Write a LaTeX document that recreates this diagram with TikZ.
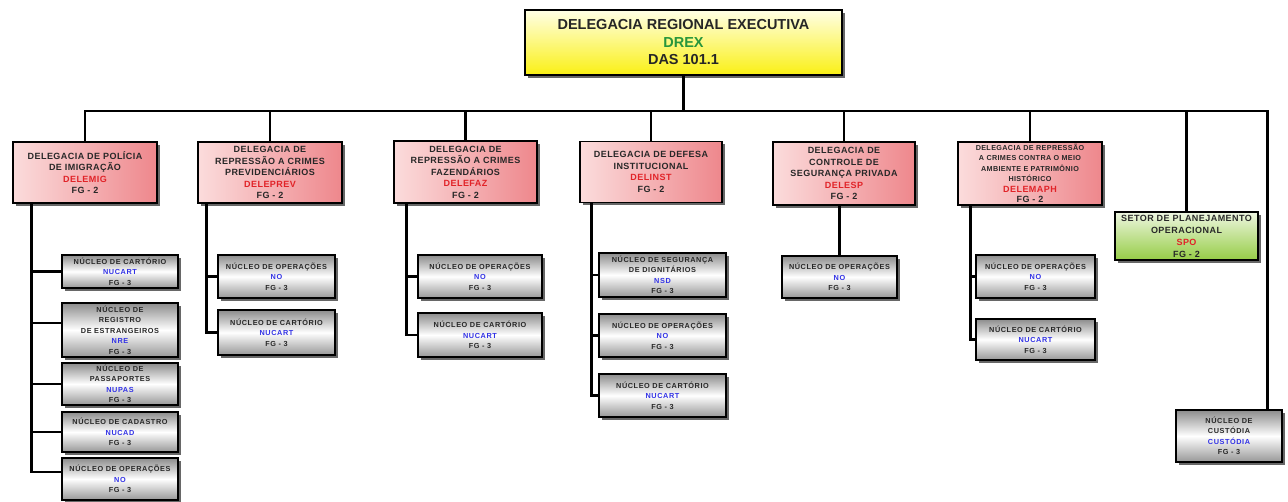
\documentclass[tikz,border=0pt]{standalone}
\usepackage{fontspec}
\setmainfont{Liberation Sans}
\newfontfamily\spcfont[LetterSpace=5]{Liberation Sans}
\newfontfamily\spcfontb[LetterSpace=8]{Liberation Sans}
\usetikzlibrary{shadows}
\definecolor{drexgreen}{RGB}{40,150,60}
\definecolor{codered}{RGB}{225,35,40}
\definecolor{codeblue}{RGB}{50,50,230}
\definecolor{txt}{RGB}{40,40,40}
\definecolor{pinkL}{RGB}{251,220,220}
\definecolor{pinkD}{RGB}{238,135,140}
\definecolor{yelL}{RGB}{255,255,230}
\definecolor{yelD}{RGB}{250,240,20}
\definecolor{grnL}{RGB}{238,246,225}
\definecolor{grnD}{RGB}{150,205,70}
\definecolor{gryD}{RGB}{140,140,140}
\tikzset{
  box/.style={draw=black, line width=1.3pt, inner sep=0pt, align=center,
    drop shadow={shadow xshift=3pt, shadow yshift=-3pt, fill=black!70, opacity=0.85}},
  topbox/.style={box, top color=yelL, bottom color=yelD,
    font=\fontsize{14.5}{17.5}\selectfont\bfseries, text=black!85},
  delbox/.style={box, left color=pinkL, right color=pinkD,
    font=\spcfont\fontsize{9}{11.5}\selectfont\bfseries, text=txt},
  smalldel/.style={delbox, font=\spcfont\fontsize{7.2}{10.5}\selectfont\bfseries},
  spobox/.style={box, top color=grnL, bottom color=grnD,
    font=\spcfont\fontsize{9}{12}\selectfont\bfseries, text=txt},
  nucbox/.style={box, top color=gryD, bottom color=gryD!90, middle color=white,
    font=\spcfontb\fontsize{7.3}{10.5}\selectfont\bfseries, text=txt},
  bus/.style={line width=2.7pt, line join=miter},
  conn/.style={line width=2.6pt, line join=miter},
}
\newcommand{\rc}[1]{{\color{codered}#1}}
\newcommand{\bc}[1]{{\color{codeblue}#1}}
\newcommand{\bgline}[1]{{\fontsize{9}{11.5}\selectfont #1}}
\begin{document}
\begin{tikzpicture}[x=1pt, y=-1pt]
\useasboundingbox (0,0) rectangle (1288,502);

% top
\node[topbox, minimum width=317pt, minimum height=65pt] (top) at (683.5,42.5)
  {DELEGACIA REGIONAL EXECUTIVA\\{\color{drexgreen}DREX}\\DAS 101.1};

% delegacias
\node[delbox, minimum width=144pt, minimum height=61pt] (dmig) at (85,172.5)
  {DELEGACIA DE POLÍCIA\\DE IMIGRAÇÃO\\\rc{DELEMIG}\\FG - 2};
\node[delbox, minimum width=144pt, minimum height=61pt] (dprev) at (270,172.5)
  {DELEGACIA DE\\REPRESSÃO A CRIMES\\PREVIDENCIÁRIOS\\\rc{DELEPREV}\\FG - 2};
\node[delbox, minimum width=143pt, minimum height=62pt] (dfaz) at (465.5,172)
  {DELEGACIA DE\\REPRESSÃO A CRIMES\\FAZENDÁRIOS\\\rc{DELEFAZ}\\FG - 2};
\node[delbox, minimum width=142pt, minimum height=61pt] (dinst) at (651,172)
  {DELEGACIA DE DEFESA\\INSTITUCIONAL\\\rc{DELINST}\\FG - 2};
\node[delbox, minimum width=142pt, minimum height=63pt] (desp) at (844,173.5)
  {DELEGACIA DE\\CONTROLE DE\\SEGURANÇA PRIVADA\\\rc{DELESP}\\FG - 2};
\node[smalldel, minimum width=144pt, minimum height=63pt] (dmaph) at (1030,173.5)
  {DELEGACIA DE REPRESSÃO\\A CRIMES CONTRA O MEIO\\AMBIENTE E PATRIMÔNIO\\HISTÓRICO\\\bgline{\rc{DELEMAPH}}\\\bgline{FG - 2}};
\node[spobox, minimum width=143pt, minimum height=48pt] (spo) at (1186.5,236)
  {SETOR DE PLANEJAMENTO\\OPERACIONAL\\\rc{SPO}\\FG - 2};
\node[nucbox, minimum width=106pt, minimum height=52pt] (cust) at (1229,436)
  {NÚCLEO DE\\CUSTÓDIA\\\bc{CUSTÓDIA}\\FG - 3};

% DELEMIG children
\node[nucbox, minimum width=116pt, minimum height=33pt] (m1) at (120,271.5)
  {NÚCLEO DE CARTÓRIO\\\bc{NUCART}\\FG - 3};
\node[nucbox, minimum width=116pt, minimum height=54pt] (m2) at (120,330)
  {NÚCLEO DE\\REGISTRO\\DE ESTRANGEIROS\\\bc{NRE}\\FG - 3};
\node[nucbox, minimum width=116pt, minimum height=42pt] (m3) at (120,384)
  {NÚCLEO DE\\PASSAPORTES\\\bc{NUPAS}\\FG - 3};
\node[nucbox, minimum width=116pt, minimum height=40pt] (m4) at (120,432)
  {NÚCLEO DE CADASTRO\\\bc{NUCAD}\\FG - 3};
\node[nucbox, minimum width=116pt, minimum height=42pt] (m5) at (120,479)
  {NÚCLEO DE OPERAÇÕES\\\bc{NO}\\FG - 3};

% DELEPREV children
\node[nucbox, minimum width=117pt, minimum height=43pt] (p1) at (276.5,276.5)
  {NÚCLEO DE OPERAÇÕES\\\bc{NO}\\FG - 3};
\node[nucbox, minimum width=117pt, minimum height=45pt] (p2) at (276.5,332.5)
  {NÚCLEO DE CARTÓRIO\\\bc{NUCART}\\FG - 3};

% DELEFAZ children
\node[nucbox, minimum width=124pt, minimum height=43pt] (f1) at (480,276.5)
  {NÚCLEO DE OPERAÇÕES\\\bc{NO}\\FG - 3};
\node[nucbox, minimum width=124pt, minimum height=44pt] (f2) at (480,335)
  {NÚCLEO DE CARTÓRIO\\\bc{NUCART}\\FG - 3};

% DELINST children
\node[nucbox, minimum width=127pt, minimum height=44pt] (i1) at (662.5,275)
  {NÚCLEO DE SEGURANÇA\\DE DIGNITÁRIOS\\\bc{NSD}\\FG - 3};
\node[nucbox, minimum width=127pt, minimum height=43pt] (i2) at (662.5,335.5)
  {NÚCLEO DE OPERAÇÕES\\\bc{NO}\\FG - 3};
\node[nucbox, minimum width=127pt, minimum height=43pt] (i3) at (662.5,395.5)
  {NÚCLEO DE CARTÓRIO\\\bc{NUCART}\\FG - 3};

% DELESP child
\node[nucbox, minimum width=115pt, minimum height=42pt] (s1) at (839.5,277)
  {NÚCLEO DE OPERAÇÕES\\\bc{NO}\\FG - 3};

% DELEMAPH children
\node[nucbox, minimum width=119pt, minimum height=43pt] (a1) at (1035.5,276.5)
  {NÚCLEO DE OPERAÇÕES\\\bc{NO}\\FG - 3};
\node[nucbox, minimum width=119pt, minimum height=41pt] (a2) at (1035.5,339.5)
  {NÚCLEO DE CARTÓRIO\\\bc{NUCART}\\FG - 3};

% bus
\coordinate (busc) at (682,111);
\coordinate (cdrop) at ([xshift=-15pt]cust.north east);
\draw[bus] (top.south) -- (top.south |- busc);
\draw[bus] (dmig.north) -- (dmig.north |- busc) -- (cdrop |- busc) -- (cdrop);
\foreach \n in {dprev,dfaz,dinst,desp,dmaph,spo}
  \draw[bus] (\n.north |- busc) -- (\n.north);

% trunks
\coordinate (tmig) at ([xshift=19pt]dmig.south west);
\draw[conn] (tmig) |- ([yshift=7pt]m5.west);
\draw[conn] (tmig |- m1.west) -- (m1.west);
\draw[conn] ([yshift=7pt]m2.west) -- ([yshift=7pt]m2.west -| tmig);
\draw[conn] (tmig |- m3.west) -- (m3.west);
\draw[conn] (tmig |- m4.west) -- (m4.west);

\coordinate (tprev) at ([xshift=9pt]dprev.south west);
\draw[conn] (tprev) |- (p2.west);
\draw[conn] (tprev |- p1.west) -- (p1.west);

\coordinate (tfaz) at ([xshift=13pt]dfaz.south west);
\draw[conn] (tfaz) |- (f2.west);
\draw[conn] (tfaz |- f1.west) -- (f1.west);

\coordinate (tinst) at ([xshift=12pt]dinst.south west);
\draw[conn] (tinst) |- (i3.west);
\draw[conn] (tinst |- i1.west) -- (i1.west);
\draw[conn] (tinst |- i2.west) -- (i2.west);

\draw[conn] (desp.south -| s1.north) -- (s1.north);

\coordinate (tmaph) at ([xshift=13pt]dmaph.south west);
\draw[conn] (tmaph) |- (a2.west);
\draw[conn] (tmaph |- a1.west) -- (a1.west);
\end{tikzpicture}
\end{document}
